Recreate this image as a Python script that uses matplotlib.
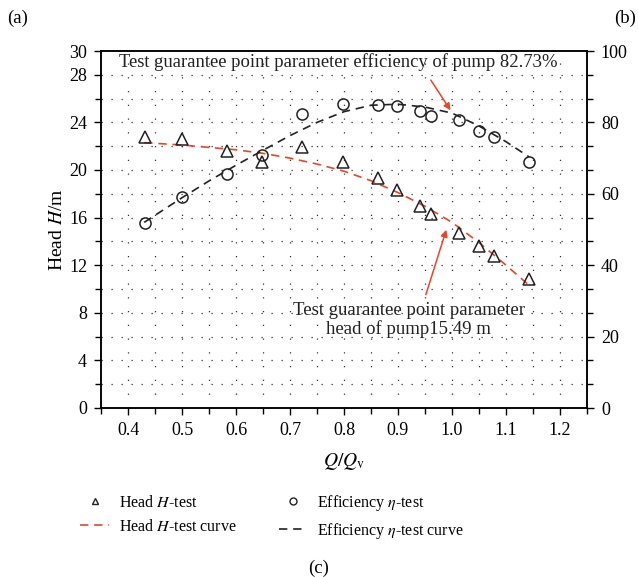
import numpy as np
import matplotlib
matplotlib.use("Agg")
import matplotlib.pyplot as plt
from matplotlib.lines import Line2D
from matplotlib.ticker import FixedLocator

plt.rcParams['font.family'] = ['Liberation Serif', 'DejaVu Serif']
plt.rcParams['mathtext.fontset'] = 'stix'

# measured points (Q/Qv)
q_test = [0.431, 0.500, 0.583, 0.648, 0.722, 0.799, 0.863, 0.899, 0.941, 0.961, 1.013, 1.050, 1.078, 1.143]
head_test = [22.8, 22.6, 21.6, 20.7, 21.9, 20.7, 19.3, 18.3, 17.0, 16.3, 14.7, 13.6, 12.8, 10.8]
eff_test = [51.7, 59.2, 65.5, 71.0, 82.4, 85.1, 84.9, 84.7, 83.3, 81.9, 80.7, 77.7, 76.0, 69.0]

# fitted curves
q_curve = [0.43, 0.50, 0.55, 0.60, 0.65, 0.70, 0.75, 0.80, 0.85, 0.90, 0.95, 1.00, 1.05, 1.10, 1.143]
head_curve = [22.3, 22.1, 21.9, 21.7, 21.4, 21.0, 20.5, 19.9, 19.1, 18.1, 16.95, 15.6, 13.9, 12.0, 10.3]
eff_curve = [52.0, 58.9, 63.6, 68.0, 72.2, 76.3, 80.0, 83.0, 84.8, 85.1, 84.3, 82.6, 79.0, 74.6, 70.3]

red = '#e8452c'
dash = (0, (5, 3.5))

fig = plt.figure(figsize=(6.38, 5.77), dpi=100)
ax = fig.add_axes([101/638, 1-408/577, 486/638, 357/577])
ax2 = ax.twinx()

ax.set_xlim(0.35, 1.25)
ax.set_ylim(0, 30)
ax2.set_ylim(0, 100)

ax.xaxis.set_major_locator(FixedLocator(np.arange(0.4, 1.21, 0.1)))
ax.xaxis.set_minor_locator(FixedLocator(np.arange(0.35, 1.26, 0.1)))
ax.yaxis.set_major_locator(FixedLocator([0, 4, 8, 12, 16, 20, 24, 28, 30]))
ax.yaxis.set_minor_locator(FixedLocator(np.arange(2, 27, 4)))
ax2.yaxis.set_major_locator(FixedLocator(np.arange(0, 101, 20)))
ax2.yaxis.set_minor_locator(FixedLocator(np.arange(0, 101, 100/15)))
ax.set_xticklabels(['0.4', '0.5', '0.6', '0.7', '0.8', '0.9', '1.0', '1.1', '1.2'])

for a in (ax, ax2):
    a.tick_params(which='both', direction='out', labelsize=13, width=1)
    a.tick_params(which='major', length=5, pad=5)
    a.tick_params(which='minor', length=4)
    for s in a.spines.values():
        s.set_linewidth(1.1)

# dotted grid
for x in np.arange(0.40, 1.21, 0.05):
    ax.axvline(x, color='#333333', lw=0.9, ls=(0, (1, 10)), zorder=0)
for y in np.arange(2, 29, 2):
    ax.axhline(y, color='#333333', lw=0.9, ls=(0, (1, 7)), zorder=0)

ax.plot(q_curve, head_curve, color=red, lw=1.2, ls=dash, zorder=2)
ax.plot(q_test, head_test, ls='none', marker='^', ms=9, mfc='none', mec='#222222', mew=1.1, zorder=3)
ax2.plot(q_curve, eff_curve, color='#222222', lw=1.2, ls=dash, zorder=2)
ax2.plot(q_test, eff_test, ls='none', marker='o', ms=8, mfc='none', mec='#222222', mew=1.1, zorder=3)

ax.set_xlabel('$Q/Q_{\\mathrm{v}}$', fontsize=14, labelpad=9)
ax.set_ylabel('Head $H$/m', fontsize=14, labelpad=2)

ax2.annotate('', xy=(1.0, 82.73), xytext=(0.958, 92.5),
             arrowprops=dict(arrowstyle='-|>', color=red, lw=1.1, mutation_scale=10))
ax.text(0.789, 29.1, 'Test guarantee point parameter efficiency of pump 82.73%',
        ha='center', va='center', fontsize=13.4, color='#222222')

ax.annotate('', xy=(0.991, 15.2), xytext=(0.95, 9.3),
            arrowprops=dict(arrowstyle='-|>', color=red, lw=1.1, mutation_scale=10))
ax.text(0.92, 7.4, 'Test guarantee point parameter\nhead of pump15.49 m',
        ha='center', va='center', fontsize=13.5, color='#222222', linespacing=1.1)

handles = [
    Line2D([], [], ls='none', marker='^', ms=5, mfc='none', mec='#222222', mew=1),
    Line2D([], [], color=red, lw=1.2, ls=dash),
    Line2D([], [], ls='none', marker='o', ms=5, mfc='none', mec='#222222', mew=1),
    Line2D([], [], color='#222222', lw=1.2, ls=dash),
]
labels = ['Head $H$-test', 'Head $H$-test curve', 'Efficiency $\\eta$-test', 'Efficiency $\\eta$-test curve']
fig.legend(handles, labels, ncol=2, loc='center', bbox_to_anchor=(272/638, 1-517/577),
           frameon=False, fontsize=11.5, handlelength=1.8, handletextpad=0.6,
           columnspacing=2.63, labelspacing=0.5)

fig.text(18/638, 1-18/577, '(a)', ha='center', va='center', fontsize=13.5)
fig.text(625/638, 1-18/577, '(b)', ha='center', va='center', fontsize=13.5)
fig.text(319/638, 1-568/577, '(c)', ha='center', va='center', fontsize=13.5)

fig.savefig('out.png', dpi=100)
